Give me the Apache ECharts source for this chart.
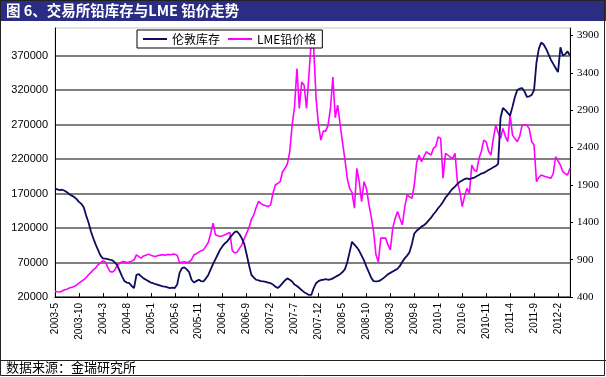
<!DOCTYPE html>
<html>
<head>
<meta charset="utf-8">
<script src="https://cdn.jsdelivr.net/npm/echarts@6/dist/echarts.min.js"></script>
<style>
  html, body { margin: 0; padding: 0; background: #fff; }
  #chart { width: 606px; height: 377px; }
</style>
</head>
<body>
<div id="chart"></div>
<script>
const TITLE = '图 6、交易所铅库存与LME 铅价走势'
const SOURCE = '数据来源：金瑞研究所'
const SERIES_NAMES = ['伦敦库存', 'LME铅价格']

// half-month categories, 2003-5 .. 2012-4
const START_YEAR = 2003
const START_MONTH = 5
const MONTH_COUNT = 108
const categories = []
for (let k = 0; k < MONTH_COUNT; k++) {
  const y = START_YEAR + Math.floor((START_MONTH - 1 + k) / 12)
  const m = (START_MONTH - 1 + k) % 12 + 1
  categories.push(`${y}-${m}-1`, `${y}-${m}-16`)
}

// LME lead stocks (tonnes), left axis
const lmeStocks = [
  177000, 176000, 175000, 175500, 174000, 172000, 169000, 167000, 165000, 162000,
  158000, 155000, 150000, 138000, 128000, 115000, 105000, 96000, 88000, 80000,
  76000, 75500, 75000, 74000, 73000, 70000, 66000, 58000, 50000, 43000,
  41000, 40000, 36000, 33000, 52000, 53000, 50000, 47000, 45000, 43000,
  41000, 40000, 38500, 37500, 36500, 35500, 35000, 34000, 33000, 33500,
  33000, 38000, 55000, 62000, 63000, 60000, 56000, 45000, 41000, 43000,
  45000, 43000, 42500, 47000, 52000, 60000, 68000, 75000, 82000, 89000,
  94000, 98000, 101000, 106000, 110000, 114000, 115000, 111000, 105000, 97000,
  82000, 66000, 52000, 48000, 45000, 44000, 43000, 42500, 42000, 41000,
  40000, 38000, 35000, 33000, 36000, 40000, 44000, 47000, 45000, 42500,
  38000, 36000, 33000, 30000, 27000, 25000, 23000, 23000, 33000, 40000,
  43000, 44500, 45000, 46000, 45000, 45500, 47000, 49000, 51000, 53000,
  56000, 60000, 70000, 85000, 100000, 96000, 92000, 87000, 80000, 73000,
  64000, 56000, 48000, 43000, 42500, 43000, 44500, 47000, 50000, 53000,
  55000, 57000, 59000, 61000, 65000, 71000, 76000, 80000, 85000, 97000,
  112000, 116000, 119000, 122000, 124000, 127000, 131000, 135000, 140000, 144000,
  149000, 153000, 158000, 164000, 168000, 173000, 177000, 180000, 184000, 187000,
  189000, 191000, 192000, 191000, 192000, 193000, 195000, 197000, 199000, 200000,
  202000, 204000, 206000, 208000, 210000, 213000, 280000, 294000, 291000, 287000,
  283000, 296000, 310000, 320000, 322000, 323000, 318000, 310000, 311000, 313000,
  320000, 360000, 380000, 389000, 386000, 380000, 372000, 364000, 358000, 352000,
  346000, 382000, 370000, 372000, 376000, 370000
]

// LME lead price (USD/t), right axis
const lmePrice = [
  475, 470, 467, 480, 497, 505, 520, 530, 541, 560,
  585, 610, 631, 660, 698, 730, 764, 790, 831, 860,
  885, 870, 800, 740, 734, 764, 831, 850, 875, 870,
  860, 867, 880, 898, 965, 940, 920, 950, 960, 974,
  960, 950, 942, 955, 960, 965, 960, 970, 965, 970,
  974, 960, 860, 865, 870, 860, 870, 900, 965, 980,
  1000, 1020, 1030, 1080, 1130, 1250, 1388, 1232, 1220, 1209,
  1220, 1232, 1250, 1265, 1020, 990, 1000, 1050, 1098, 1180,
  1254, 1330, 1440, 1499, 1600, 1680, 1650, 1632, 1620, 1610,
  1632, 1788, 1899, 1920, 1943, 2077, 2122, 2180, 2344, 2700,
  2944, 3457, 2923, 3278, 3234, 2923, 3368, 3835, 3724, 3057,
  2700, 2500, 2620, 2620, 2700, 2923, 3345, 2800, 2967, 2720,
  2477, 2250, 1989, 1850, 1800, 1588, 2122, 1943, 1676, 1943,
  1855, 1650, 1476, 1276, 965, 867, 1188, 1190, 1188, 1100,
  1031, 1321, 1450, 1543, 1450, 1365, 1600, 1766, 1740, 1721,
  1899, 2200, 2300, 2210, 2280, 2344, 2320, 2300, 2389, 2420,
  2544, 2522, 1989, 2322, 2300, 2270, 2255, 2322, 1943, 1810,
  1610, 1750, 1855, 1788, 2166, 2100, 2077, 2255, 2350, 2500,
  2477, 2350, 2300, 2522, 2700, 2600, 2522, 2656, 2550, 2477,
  2834, 2567, 2520, 2477, 2550, 2700, 2700, 2700, 2650, 2477,
  2433, 1943, 2000, 2033, 2020, 2010, 2000, 1989, 2050, 2277,
  2220, 2166, 2077, 2050, 2033, 2122
]

const NAVY = '#0d0d5c'
const MAGENTA = '#ff00ff'
const TITLE_BG = '#2b2d84'

const chart = echarts.init(document.getElementById('chart'), null, { renderer: 'canvas' })

chart.setOption({
  backgroundColor: '#fff',
  animation: false,
  graphic: [
    { type: 'rect', shape: { x: 0, y: 0, width: 606, height: 21 }, style: { fill: TITLE_BG }, z: 0 },
    {
      type: 'text', left: 6, top: 3, z: 1,
      style: { text: TITLE, fill: '#fff', font: 'bold 14.5px "Noto Sans CJK SC", sans-serif' }
    },
    { type: 'rect', shape: { x: 0.5, y: 0.5, width: 604, height: 375 }, style: { fill: null, stroke: '#222', lineWidth: 1 }, z: 0 },
    { type: 'line', shape: { x1: 0, y1: 360.5, x2: 606, y2: 360.5 }, style: { stroke: '#222', lineWidth: 1 }, z: 0 },
    {
      type: 'text', left: 6, top: 361, z: 1,
      style: { text: SOURCE, fill: '#000', font: '13px "Noto Sans CJK SC", sans-serif' }
    }
  ],
  grid: {
    left: 55, right: 36, top: 28, bottom: 80,
    show: true, borderColor: '#c8c8c8', borderWidth: 1, backgroundColor: '#fff'
  },
  legend: {
    left: 137, top: 30,
    data: SERIES_NAMES,
    icon: 'rect', itemWidth: 24, itemHeight: 2, itemGap: 8,
    borderColor: '#000', borderWidth: 1, padding: [3, 6, 3, 6],
    backgroundColor: '#fff',
    textStyle: { fontSize: 12, color: '#000', fontFamily: '"Noto Sans CJK SC", sans-serif' }
  },
  xAxis: {
    type: 'category',
    data: categories,
    boundaryGap: false,
    axisLine: { lineStyle: { color: '#000', width: 1 } },
    axisTick: { inside: true, length: 4, interval: 9, lineStyle: { color: '#000' } },
    axisLabel: {
      interval: 9, rotate: 90, margin: 6,
      fontSize: 10, color: '#000', fontFamily: '"Liberation Sans", Arial, sans-serif',
      formatter: v => v.slice(0, v.lastIndexOf('-'))
    },
    splitLine: { show: false }
  },
  yAxis: [
    {
      type: 'value',
      min: 20000, max: 410000, interval: 50000,
      axisLine: { show: true, lineStyle: { color: '#000', width: 1 } },
      axisTick: { show: false },
      axisLabel: {
        showMaxLabel: false, margin: 7,
        fontSize: 11, color: '#000', fontFamily: '"Liberation Sans", Arial, sans-serif',
        formatter: v => String(v)
      },
      splitLine: { show: true, showMaxLine: false, lineStyle: { color: '#555', width: 1.5 } }
    },
    {
      type: 'value',
      min: 400, max: 4000, interval: 500,
      axisLine: { show: true, lineStyle: { color: '#000', width: 1 } },
      axisTick: { show: true, length: 3, lineStyle: { color: '#000' } },
      axisLabel: {
        showMaxLabel: false, margin: 7,
        fontSize: 11, color: '#000', fontFamily: '"Liberation Serif", "Times New Roman", serif',
        formatter: v => String(v)
      },
      splitLine: { show: false }
    }
  ],
  series: [
    {
      name: SERIES_NAMES[0], type: 'line', yAxisIndex: 0,
      data: lmeStocks, symbol: 'none',
      lineStyle: { color: NAVY, width: 1.8 }, itemStyle: { color: NAVY }, z: 3
    },
    {
      name: SERIES_NAMES[1], type: 'line', yAxisIndex: 1,
      data: lmePrice, symbol: 'none',
      lineStyle: { color: MAGENTA, width: 1.6 }, itemStyle: { color: MAGENTA }, z: 2
    }
  ]
})
</script>
</body>
</html>
